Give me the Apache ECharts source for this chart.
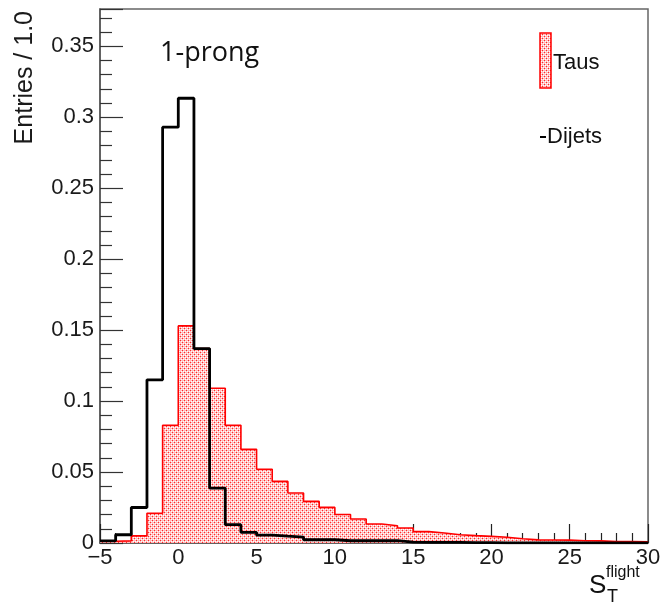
<!DOCTYPE html>
<html>
<head>
<meta charset="utf-8">
<script src="https://cdn.jsdelivr.net/npm/echarts@6/dist/echarts.min.js"></script>
<style>html,body{margin:0;padding:0;background:#fff}#c{width:664px;height:608px}</style>
</head>
<body>
<div id="c"></div>
<script>
// Bin lower edges (bin width 1.0) and upper edge of last bin
const binEdges = [-5,-4,-3,-2,-1,0,1,2,3,4,5,6,7,8,9,10,11,12,13,14,15,16,17,18,19,20,21,22,23,24,25,26,27,28,29,30];
// Taus (red filled histogram)
const taus = [0.0012,0.0015,0.005,0.021,0.083,0.153,0.137,0.109,0.083,0.066,0.052,0.0434,0.0352,0.0293,0.0251,0.0201,0.0169,0.0134,0.0122,0.0106,0.0080,0.0070,0.0058,0.0052,0.0047,0.0040,0.0030,0.0022,0.0021,0.0020,0.0016,0.0015,0.0010,0.0010,0.0009];
// Dijets (black line histogram)
const dijets = [0.0015,0.0058,0.025,0.115,0.293,0.3134,0.137,0.0387,0.0129,0.0075,0.0055,0.0048,0.0042,0.0023,0.0023,0.0016,0.0016,0.0016,0.0016,0.0006,0.0005,0.0005,0.0004,0.0003,0.0002,0.0001,0.0001,0.0001,0.0001,0.0001,0.0001,0.0001,0.0001,0.0001,0.0001];
const xTicks = [-5,0,5,10,15,20,25,30];
const yTicks = [0,0.05,0.1,0.15,0.2,0.25,0.3,0.35];

function histData(vals){
  const d = vals.map((v,i)=>[binEdges[i], v]);
  d.push([binEdges[vals.length], vals[vals.length-1]]);
  return d;
}
function makePattern(){
  const c = document.createElement('canvas');
  c.width = 4; c.height = 4;
  const ctx = c.getContext('2d');
  ctx.fillStyle = '#ffbcbc'; ctx.fillRect(0,0,4,4);
  ctx.fillStyle = '#ff2a2a';
  ctx.fillRect(0,0,1,1); ctx.fillRect(2,2,1,1);
  ctx.fillStyle = '#ffffff';
  ctx.fillRect(1,1,1,1); ctx.fillRect(3,3,1,1); ctx.fillRect(1,3,1,1); ctx.fillRect(3,1,1,1);
  return c;
}
const pat = {image: makePattern(), repeat: 'repeat'};
const FONT = '"Liberation Sans", Arial, sans-serif';
const chart = echarts.init(document.getElementById('c'));
chart.setOption({
  animation: false,
  grid: {left: 100, right: 16, top: 9, bottom: 65, show: true, borderColor: '#666', borderWidth: 1.5},
  xAxis: {
    type: 'value', min: xTicks[0], max: xTicks[xTicks.length-1], interval: 5,
    axisLine: {onZero: false, lineStyle: {color: '#555', width: 1.5}},
    axisTick: {inside: true, length: 19, lineStyle: {color: '#222', width: 1.2}},
    minorTick: {show: true, splitNumber: 5, length: 10, lineStyle: {color: '#222', width: 1.2}},
    splitLine: {show: false},
    axisLabel: {fontSize: 22, fontFamily: FONT, color: '#1a1a1a', margin: 4,
      formatter: v => (v < 0 ? '\u2212' + Math.abs(v) : String(v))}
  },
  yAxis: {
    type: 'value', min: 0, max: 0.3763, interval: 0.05,
    axisLine: {onZero: false, lineStyle: {color: '#555', width: 1.5}},
    axisTick: {inside: true, length: 23, lineStyle: {color: '#333', width: 1.2}},
    minorTick: {show: true, splitNumber: 5, length: 12, lineStyle: {color: '#333', width: 1.2}},
    splitLine: {show: false},
    axisLabel: {fontSize: 22, fontFamily: FONT, color: '#1a1a1a', margin: 6, showMaxLabel: false,
      formatter: v => (yTicks.some(t => Math.abs(t - v) < 1e-9) ? String(+v.toFixed(2)) : '')}
  },
  series: [
    {type: 'line', name: 'Taus', step: 'end', data: histData(taus), showSymbol: false,
     lineStyle: {color: '#ff0000', width: 1.6}, areaStyle: {color: pat, opacity: 1}, z: 2},
    {type: 'line', name: 'Dijets', step: 'end', data: histData(dijets), showSymbol: false,
     lineStyle: {color: '#000000', width: 2.8}, z: 3}
  ],
  graphic: [
    {type: 'text', x: 25, y: 11, rotation: Math.PI/2,
     style: {text: 'Entries / 1.0', font: '25px ' + FONT, fill: '#1a1a1a', textAlign: 'right', textVerticalAlign: 'middle'}},
    {type: 'text', x: 160, y: 53,
     style: {text: '1-prong', font: '27px "Open Sans", sans-serif', fill: '#111', textAlign: 'left', textVerticalAlign: 'middle'}},
    {type: 'rect', shape: {x: 540, y: 33, width: 11, height: 55},
     style: {fill: pat, stroke: '#ff0000', lineWidth: 1.5}},
    {type: 'text', x: 553, y: 63,
     style: {text: 'Taus', font: '22px ' + FONT, fill: '#111', textAlign: 'left', textVerticalAlign: 'middle'}},
    {type: 'line', shape: {x1: 540, y1: 137, x2: 546, y2: 137}, style: {stroke: '#000', lineWidth: 2}},
    {type: 'text', x: 547, y: 137,
     style: {text: 'Dijets', font: '22px ' + FONT, fill: '#111', textAlign: 'left', textVerticalAlign: 'middle'}},
    {type: 'text', x: 589, y: 586,
     style: {text: 'S', font: '26px ' + FONT, fill: '#111', textAlign: 'left', textVerticalAlign: 'middle'}},
    {type: 'text', x: 607, y: 597,
     style: {text: 'T', font: '18px ' + FONT, fill: '#111', textAlign: 'left', textVerticalAlign: 'middle'}},
    {type: 'text', x: 606, y: 573,
     style: {text: 'flight', font: '16px ' + FONT, fill: '#111', textAlign: 'left', textVerticalAlign: 'middle'}}
  ]
});
</script>
</body>
</html>
